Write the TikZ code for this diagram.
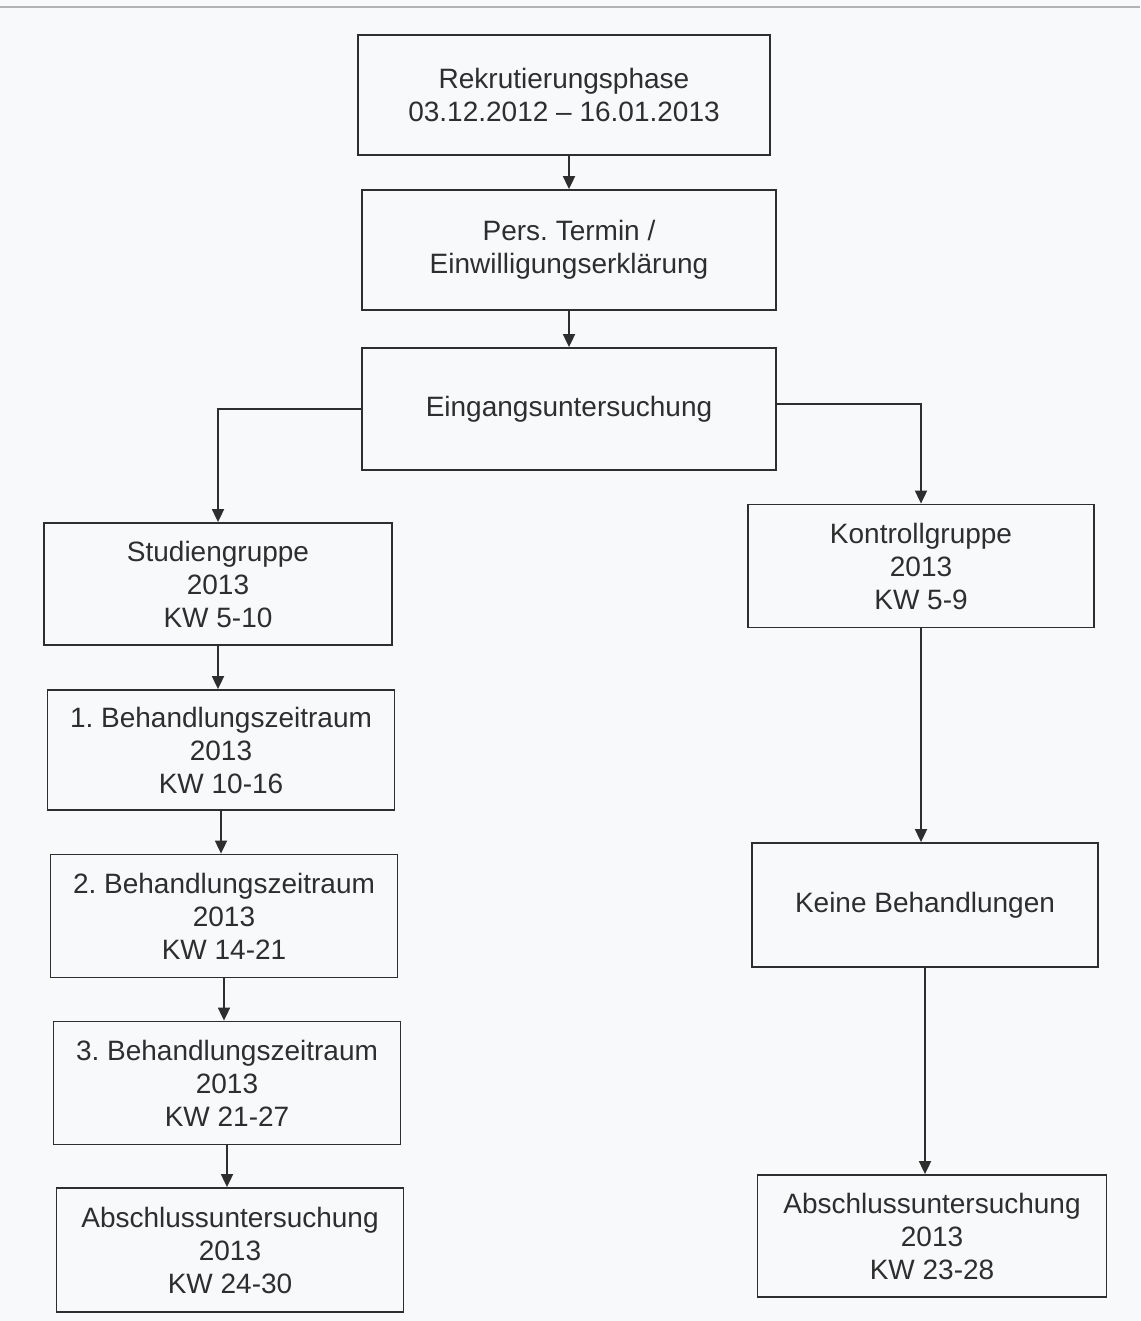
\documentclass[tikz,border=0pt]{standalone}
\usepackage{fontspec}
\setmainfont{Liberation Sans}
\usetikzlibrary{arrows.meta}
\frenchspacing
\definecolor{ink}{HTML}{2E2E2E}
\definecolor{paper}{HTML}{F8F9FB}
\begin{document}
\begin{tikzpicture}[x=1pt,y=-1pt,
  box/.style={draw=ink, line width=1.8pt, text=ink, align=center, inner sep=0pt,
    font=\fontsize{28}{33}\selectfont},
  arr/.style={draw=ink, line width=1.8pt, -{Triangle[length=13pt,width=12pt]}}]
\fill[paper] (0,0) rectangle (1140,1321);
\useasboundingbox (0,0) rectangle (1140,1321);
\draw[black!30, line width=2pt] (0,7) -- (1140,7);
% boxes
\node[box, minimum width=412pt, minimum height=120pt] (rekr) at (564,95) {Rekrutierungsphase\\03.12.2012 -- 16.01.2013};
\node[box, minimum width=414pt, minimum height=120pt] (pers) at (569,250) {Pers. Termin /\\Einwilligungserklärung};
\node[box, minimum width=414pt, minimum height=122pt] (eing) at (569,409) {Eingangsuntersuchung};
\node[box, minimum width=348pt, minimum height=122pt] (stud) at (218,584) {Studiengruppe\\2013\\KW 5-10};
\node[box, minimum width=346pt, minimum height=123pt] (kontr) at (921,566) {Kontrollgruppe\\2013\\KW 5-9};
\node[box, minimum width=347pt, minimum height=120pt] (b1) at (221,750) {1. Behandlungszeitraum\\2013\\KW 10-16};
\node[box, minimum width=347pt, minimum height=123pt] (b2) at (224,916) {2. Behandlungszeitraum\\2013\\KW 14-21};
\node[box, minimum width=347pt, minimum height=123pt] (b3) at (227,1083) {3. Behandlungszeitraum\\2013\\KW 21-27};
\node[box, minimum width=347pt, minimum height=124pt] (abl) at (230,1250) {Abschlussuntersuchung\\2013\\KW 24-30};
\node[box, minimum width=346pt, minimum height=124pt] (keine) at (925,905) {Keine Behandlungen};
\node[box, minimum width=349pt, minimum height=122pt] (abr) at (932,1236) {Abschlussuntersuchung\\2013\\KW 23-28};
% connectors
\draw[arr] (rekr.south -| pers.north) -- (pers.north);
\draw[arr] (pers.south) -- (pers.south |- eing.north);
\draw[arr] (eing.west) -| (stud.north);
\draw[arr] ([yshift=5pt]eing.east) -| (kontr.north);
\draw[arr] (stud.south) -- (stud.south |- b1.north);
\draw[arr] (b1.south) -- (b1.south |- b2.north);
\draw[arr] (b2.south) -- (b2.south |- b3.north);
\draw[arr] (b3.south) -- (b3.south |- abl.north);
\draw[arr] (kontr.south) -- (kontr.south |- keine.north);
\draw[arr] (keine.south) -- (keine.south |- abr.north);
\end{tikzpicture}
\end{document}
